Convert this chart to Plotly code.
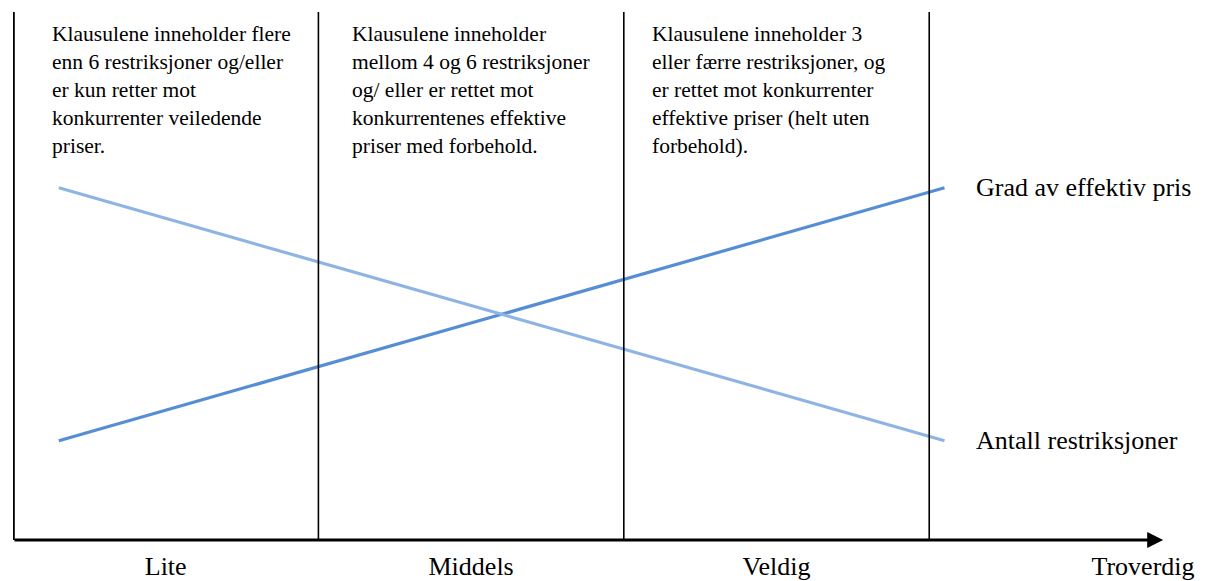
import plotly.graph_objects as go

# ---- data ----
categories = ["Lite", "Middels", "Veldig", "Troverdig"]
category_pos = [0.5, 1.5, 2.5, 3.7]
dividers = [1, 2, 3]
line_x = [0.15, 3.05]
grad_effektiv_pris = [1.88, 6.67]
antall_restriksjoner = [6.67, 1.88]
series_names = ["Grad av effektiv pris", "Antall restriksjoner"]
box_texts = [
    "Klausulene inneholder flere<br>enn 6 restriksjoner og/eller<br>er kun retter mot<br>konkurrenter veiledende<br>priser.",
    "Klausulene inneholder<br>mellom 4 og 6 restriksjoner<br>og/ eller er rettet mot<br>konkurrentenes effektive<br>priser med forbehold.",
    "Klausulene inneholder 3<br>eller færre restriksjoner, og<br>er rettet mot konkurrenter<br>effektive priser (helt uten<br>forbehold).",
]
box_x = [0.12, 1.105, 2.085]
y_max = 10
arrow_end = 3.766

FONT = "Liberation Serif, Times New Roman, serif"

fig = go.Figure()
fig.add_trace(go.Scatter(x=line_x, y=grad_effektiv_pris, mode="lines",
                         line=dict(color="#558ED5", width=3.2), name=series_names[0],
                         hoverinfo="skip"))
fig.add_trace(go.Scatter(x=line_x, y=antall_restriksjoner, mode="lines",
                         line=dict(color="#8EB4E3", width=3.2), name=series_names[1],
                         hoverinfo="skip"))

shapes = []
for d in dividers:
    shapes.append(dict(type="line", xref="x", yref="y", x0=d, x1=d, y0=0, y1=y_max,
                       line=dict(color="black", width=1.6)))
# left axis
shapes.append(dict(type="line", xref="x", yref="y", x0=0, x1=0, y0=-0.03, y1=y_max,
                   line=dict(color="black", width=3.6)))

annotations = []
# bottom arrow axis
annotations.append(dict(x=arrow_end, y=0, ax=0, ay=0, xref="x", yref="y",
                        axref="x", ayref="y", text="", showarrow=True,
                        arrowhead=2, arrowsize=1, arrowwidth=3.2, arrowcolor="black",
                        standoff=0, startstandoff=0))
for t, bx in zip(box_texts, box_x):
    annotations.append(dict(x=bx, y=9.85, xref="x", yref="y", text=t, showarrow=False,
                            xanchor="left", yanchor="top", align="left",
                            font=dict(family=FONT, size=21.5, color="black")))
# series labels at line ends
annotations.append(dict(x=line_x[-1], y=grad_effektiv_pris[-1], xref="x", yref="y",
                        text=series_names[0], showarrow=False, xanchor="left",
                        yanchor="middle", xshift=30,
                        font=dict(family=FONT, size=26, color="black")))
annotations.append(dict(x=line_x[-1], y=antall_restriksjoner[-1], xref="x", yref="y",
                        text=series_names[1], showarrow=False, xanchor="left",
                        yanchor="middle", xshift=30,
                        font=dict(family=FONT, size=26, color="black")))

# page body has an 8px margin: size the figure to fit the window
fig.update_layout(
    width=1197, height=573,
    margin=dict(l=4.5, r=0, t=4, b=41),
    paper_bgcolor="white", plot_bgcolor="white",
    showlegend=False,
    shapes=shapes, annotations=annotations,
    xaxis=dict(range=[0, 3.903], showgrid=False, zeroline=False, showline=False,
               tickmode="array", tickvals=category_pos, ticktext=categories,
               ticks="", tickfont=dict(family=FONT, size=26, color="black"),
               ticklabelstandoff=8, fixedrange=True),
    yaxis=dict(range=[0, y_max], showgrid=False, zeroline=False, showline=False,
               showticklabels=False, ticks="", fixedrange=True),
)

fig.write_html("out.html")
